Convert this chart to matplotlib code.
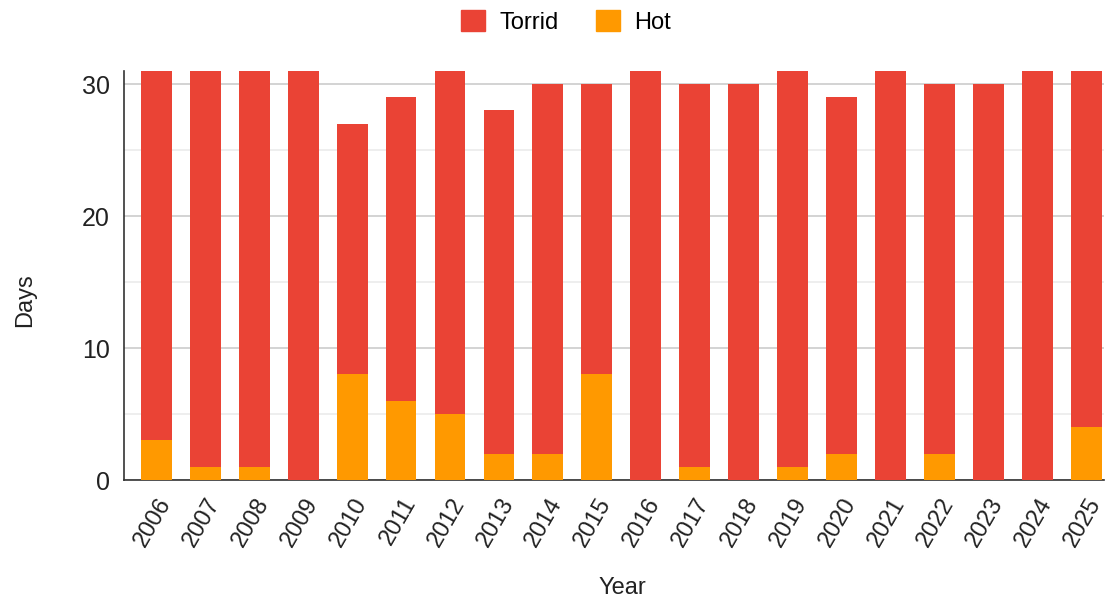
import numpy as np
import matplotlib
matplotlib.use("Agg")
import matplotlib.pyplot as plt
from matplotlib.patches import Patch

years = [str(y) for y in range(2006, 2026)]
hot = [3, 1, 1, 0, 8, 6, 5, 2, 2, 8, 0, 1, 0, 1, 2, 0, 2, 0, 0, 4]
torrid = [28, 30, 30, 31, 19, 23, 26, 26, 28, 22, 31, 29, 30, 30, 27, 31, 28, 30, 31, 27]

red = "#EA4335"
orange = "#FF9900"

plt.rcParams.update({"font.family": "Liberation Sans", "font.size": 17})
fig = plt.figure(figsize=(11.05, 6.0), dpi=100)
ax = fig.add_axes([124 / 1105, 0.2, 1 - 124 / 1105 - 0.001, 0.682])

x = np.arange(len(years))
ax.bar(x, hot, width=0.63, color=orange, zorder=3)
ax.bar(x, torrid, width=0.63, bottom=hot, color=red, zorder=3)

ax.set_xlim(-0.66, len(years) - 0.64)
ax.set_ylim(0, 31)
ax.set_yticks([0, 10, 20, 30])
ax.set_yticks([5, 15, 25], minor=True)
ax.grid(axis="y", which="major", color="#cccccc", linewidth=1.2, zorder=0)
ax.grid(axis="y", which="minor", color="#ebebeb", linewidth=1.2, zorder=0)
ax.tick_params(axis="y", which="both", length=0, pad=10, labelsize=18, colors="#222222")
ax.set_xticks(x)
ax.set_xticklabels(years, rotation=60, ha="right", rotation_mode="anchor")
ax.tick_params(axis="x", length=0, pad=10, labelsize=17, colors="#222222")

for s in ["top", "right"]:
    ax.spines[s].set_visible(False)
ax.spines["left"].set_color("#333333")
ax.spines["bottom"].set_color("#333333")
ax.spines["left"].set_linewidth(1.2)
ax.spines["bottom"].set_linewidth(1.2)

fig.text(25 / 1105, 1 - 300 / 600, "Days", rotation=90, ha="center", va="center",
         fontsize=17, color="#222222")
fig.text(622 / 1105, 1 - 588 / 600, "Year", ha="center", va="center",
         fontsize=17, color="#222222")

handles = [Patch(color=red, label="Torrid"), Patch(color=orange, label="Hot")]
fig.legend(handles=handles, loc="center", bbox_to_anchor=(566 / 1105, 1 - 22 / 600),
           ncol=2, frameon=False, fontsize=17, handlelength=1.0, handleheight=1.0,
           columnspacing=1.6, handletextpad=0.6)

fig.savefig("out.png", dpi=100)
